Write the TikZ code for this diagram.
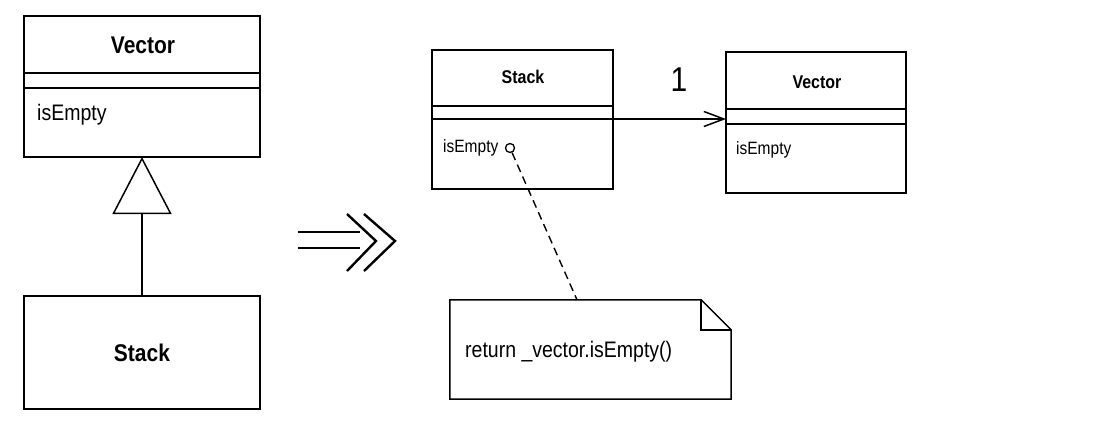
\documentclass[tikz,border=0pt]{standalone}
\usepackage{fontspec}
\setmainfont{Liberation Sans}
\usetikzlibrary{arrows.meta}
\newcommand{\tallx}[1]{\scalebox{1}[1.15]{#1}}
\begin{document}
\begin{tikzpicture}[x=1pt,y=-1pt,
  box/.style={draw,line width=1.5pt,minimum width=#1,inner sep=0,outer sep=0},
  cname/.style={inner sep=0,font=\bfseries\fontsize{#1}{#1}\selectfont},
  op/.style={inner sep=0,anchor=west,font=\fontsize{#1}{#1}\selectfont},
  sep/.style={line width=1.5pt}]
\useasboundingbox[fill=white] (0,0) rectangle (1102,434);
% ---- left: inheritance ----
\node[box=236pt,minimum height=141pt] (lv) at (142,86.5) {};
\draw[sep] (lv.west |- 0,73) -- (lv.east |- 0,73);
\draw[sep] (lv.west |- 0,88) -- (lv.east |- 0,88);
\node[cname=21pt] (lvn) at (143,45) {\tallx{Vector}};
\node[op=19.5pt] (lvo) at (37,115) {\tallx{isEmpty}};
\node[box=236pt,minimum height=113pt] (ls) at (142,352.5) {};
\node[cname=21pt] (lsn) at (142,353) {\tallx{Stack}};
\draw[line width=1.5pt,-{Triangle[open,length=57pt,width=59pt,line width=1.5pt]}] (ls.north) -- (lv.south);
% ---- transformation arrow ----
\draw[line width=2.2pt] (298,232) -- (360,232);
\draw[line width=2.2pt] (298,248) -- (360,248);
\draw[line width=2.4pt,line join=miter] (347,214) -- (376,241) -- (347,271);
\draw[line width=2.4pt,line join=miter] (364,214) -- (395,241) -- (364,271);
% ---- right: delegation ----
\node[box=181pt,minimum height=139pt] (rs) at (522.5,119.5) {};
\draw[sep] (rs.west |- 0,106) -- (rs.east |- 0,106);
\draw[sep] (rs.west |- 0,119) -- (rs.east |- 0,119);
\node[cname=16pt] (rsn) at (523,77) {\tallx{Stack}};
\node[op=15.5pt] (rso) at (443,148) {\tallx{isEmpty}};
\node[box=180pt,minimum height=141pt] (rv) at (816,122.5) {};
\draw[sep] (rv.west |- 0,109) -- (rv.east |- 0,109);
\draw[sep] (rv.west |- 0,124) -- (rv.east |- 0,124);
\node[cname=16pt] (rvn) at (817,82) {\tallx{Vector}};
\node[op=15.5pt] (rvo) at (736,150) {\tallx{isEmpty}};
\draw[line width=1.5pt,-{Straight Barb[length=20pt,width=15pt,line width=1.5pt]}] (rs.east |- 0,119) -- (rv.west |- 0,119);
\node[inner sep=0,font=\fontsize{30pt}{30pt}\selectfont] (mult) at (679,80) {\tallx{1}};
% note
\node[draw,circle,line width=1.3pt,minimum size=9pt,inner sep=0] (dot) at (510,148) {};
\node[inner sep=0,minimum width=281pt,minimum height=99pt] (note) at (590.5,349.5) {};
\draw[line width=1.5pt,line join=miter] (note.north west) -- ([xshift=-30pt]note.north east) -- ([yshift=-30pt]note.north east) -- (note.south east) -- (note.south west) -- cycle;
\draw[line width=1.5pt] ([xshift=-30pt]note.north east) -- ([xshift=-30pt,yshift=-30pt]note.north east) -- ([yshift=-30pt]note.north east);
\node[op=19.5pt] (notetext) at (465,352) {\tallx{return \_vector.isEmpty()}};
\draw[line width=1.4pt,dash pattern=on 8pt off 5pt] (dot) -- ([xshift=-13.5pt]note.north);
\end{tikzpicture}
\end{document}
